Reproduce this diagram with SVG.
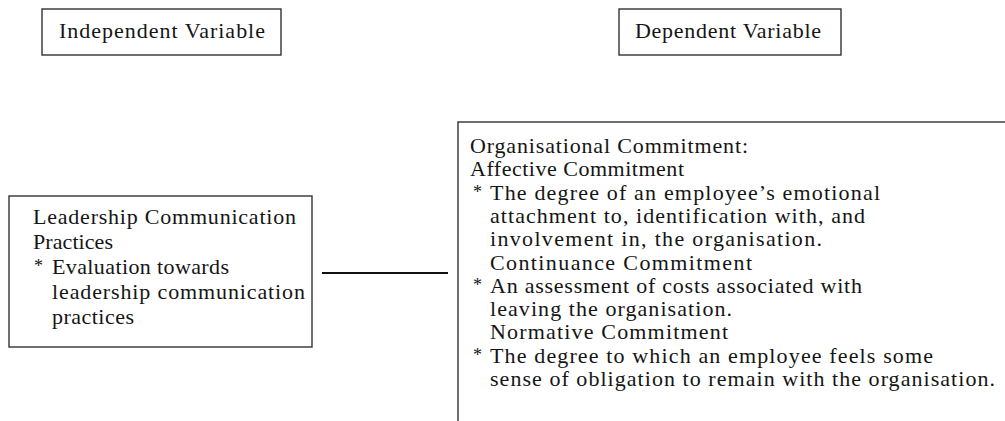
<svg xmlns="http://www.w3.org/2000/svg" width="1005" height="421" viewBox="0 0 1005 421">
<style>
.box{fill:#fff;stroke:#333;stroke-width:1.4}
.t{font-family:"Liberation Serif","Times New Roman",serif;font-size:22px;fill:#151515}
.ast{font-family:"Liberation Serif","Times New Roman",serif;font-size:18px;fill:#151515}
.conn{stroke:#111;stroke-width:2.2}
</style>
<rect width="1005" height="421" fill="#fff"/>
<g id="independent-variable">
<rect class="box" x="42" y="9" width="239" height="46"/>
<text class="t" x="59" y="38" textLength="206" lengthAdjust="spacing">Independent Variable</text>
</g>
<g id="dependent-variable">
<rect class="box" x="619" y="9" width="222" height="46"/>
<text class="t" x="635" y="38" textLength="186" lengthAdjust="spacing">Dependent Variable</text>
</g>
<g id="leadership-communication">
<rect class="box" x="9" y="196" width="303" height="151"/>
<text class="t" x="33" y="224" textLength="263" lengthAdjust="spacing">Leadership Communication</text>
<text class="t" x="33" y="249" textLength="80" lengthAdjust="spacing">Practices</text>
<text class="ast" x="34" y="272">*</text>
<text class="t" x="52" y="274" textLength="177" lengthAdjust="spacing">Evaluation towards</text>
<text class="t" x="52" y="299" textLength="253" lengthAdjust="spacing">leadership communication</text>
<text class="t" x="52" y="324" textLength="82" lengthAdjust="spacing">practices</text>
</g>
<g id="organisational-commitment">
<rect class="box" x="458" y="122" width="600" height="320"/>
<text class="t" x="470" y="153" textLength="278" lengthAdjust="spacing">Organisational Commitment:</text>
<text class="t" x="470" y="176" textLength="214" lengthAdjust="spacing">Affective Commitment</text>
<text class="ast" x="473" y="198">*</text>
<text class="t" x="490" y="200" textLength="390" lengthAdjust="spacing">The degree of an employee’s emotional</text>
<text class="t" x="490" y="223" textLength="375" lengthAdjust="spacing">attachment to, identification with, and</text>
<text class="t" x="490" y="246" textLength="332" lengthAdjust="spacing">involvement in, the organisation.</text>
<text class="t" x="490" y="270" textLength="262" lengthAdjust="spacing">Continuance Commitment</text>
<text class="ast" x="473" y="291">*</text>
<text class="t" x="490" y="293" textLength="372" lengthAdjust="spacing">An assessment of costs associated with</text>
<text class="t" x="490" y="316" textLength="242" lengthAdjust="spacing">leaving the organisation.</text>
<text class="t" x="490" y="339" textLength="238" lengthAdjust="spacing">Normative Commitment</text>
<text class="ast" x="473" y="361">*</text>
<text class="t" x="490" y="363" textLength="443" lengthAdjust="spacing">The degree to which an employee feels some</text>
<text class="t" x="490" y="386" textLength="505" lengthAdjust="spacing">sense of obligation to remain with the organisation.</text>
</g>
<g id="connectors">
<line class="conn" x1="322" y1="273" x2="448" y2="273"/>
</g>
</svg>
